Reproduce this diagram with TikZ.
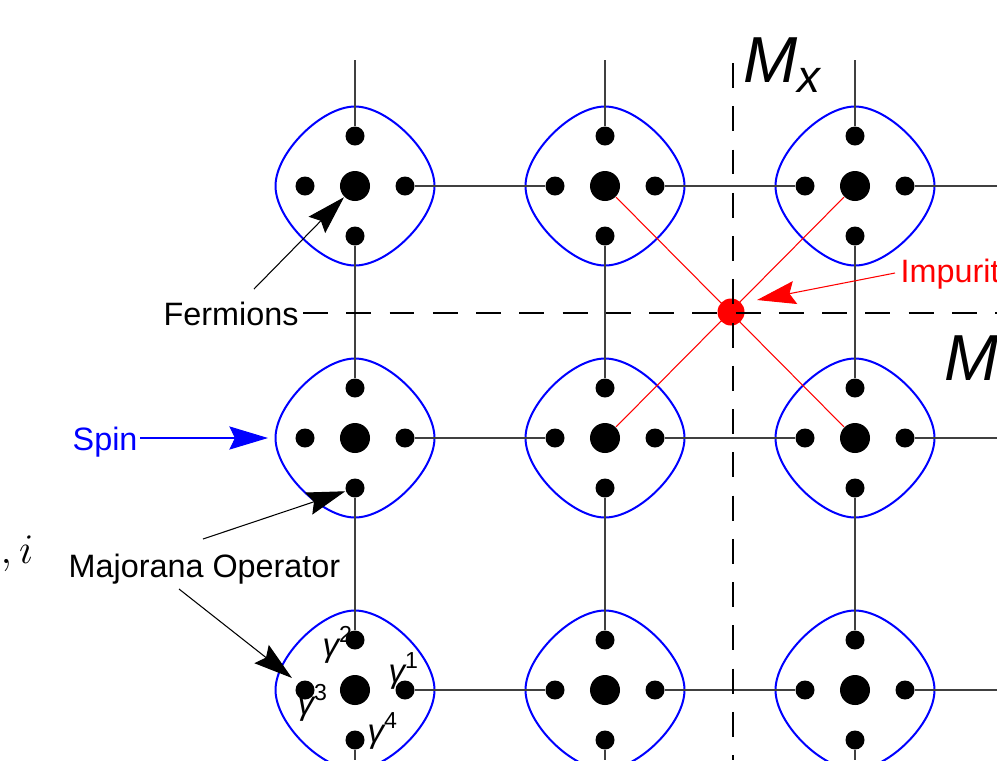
\documentclass[tikz,border=0pt]{standalone}
\usepackage{fontspec}
\setmainfont{Liberation Sans}
\usepackage{tikz}
\usetikzlibrary{arrows.meta}
\definecolor{bondgray}{gray}{0.25}

\begin{document}
\begin{tikzpicture}[
  x=0.01cm, y=-0.01cm,
  font=\fontsize{9.2}{11}\selectfont,
  site/.style={circle,fill=black,inner sep=0pt,minimum size=0.30cm},
  maj/.style={circle,fill=black,inner sep=0pt,minimum size=0.19cm},
  cell/.style={draw=blue,line width=0.57pt},
  bond/.style={draw=bondgray,line width=0.32pt},
  mirror/.style={draw=black,line width=0.65pt,dash pattern=on 7.1pt off 5.2pt},
  ar/.style={-{Stealth[length=11pt,width=6.6pt,inset=1.6pt]},line width=0.3pt},
  lbl/.style={inner sep=0pt,anchor=base west},
  gam/.style={inner sep=0pt,anchor=base west,font=\fontsize{9.4}{11}\selectfont\itshape}
]
\useasboundingbox (0,0) rectangle (997,760);

% spins: blue cell, fermion site and four Majorana dots
\foreach \i in {1,2,3}
  \foreach \j in {1,2,3}{
    \pgfmathsetmacro\cx{105+250*\i}
    \pgfmathsetmacro\cy{-66+252*\j}
    \draw[cell] (\cx+79.5,\cy) .. controls +(0,33.4) and +(33.4,0) .. (\cx,\cy+79.5)
      .. controls +(-33.4,0) and +(0,33.4) .. (\cx-79.5,\cy)
      .. controls +(0,-33.4) and +(-33.4,0) .. (\cx,\cy-79.5)
      .. controls +(33.4,0) and +(0,-33.4) .. cycle;
    \node[site] (s\i\j) at (\cx,\cy) {};
    \node[maj]  (e\i\j) at (\cx+50,\cy) {};
    \node[maj]  (w\i\j) at (\cx-50,\cy) {};
    \node[maj]  (n\i\j) at (\cx,\cy-50) {};
    \node[maj]  (b\i\j) at (\cx,\cy+50) {};
    \coordinate (top\i) at (\cx,60);
    \coordinate (bot\i) at (\cx,760);
    \coordinate (rim\j) at (997,\cy);
  }

% lattice bonds
\foreach \i in {1,2,3}{
  \draw[bond] (n\i1) -- (top\i);
  \draw[bond] (b\i1) -- (n\i2);
  \draw[bond] (b\i2) -- (n\i3);
  \draw[bond] (b\i3) -- (bot\i);
}
\foreach \j in {1,2,3}{
  \draw[bond] (e1\j) -- (w2\j);
  \draw[bond] (e2\j) -- (w3\j);
  \draw[bond] (e3\j) -- (rim\j);
}

% impurity in the plaquette
\draw[red,line width=0.3pt] (s21) -- (s32);
\draw[red,line width=0.3pt] (s31) -- (s22);
\node[circle,fill=red,inner sep=0pt,minimum size=0.27cm] (imp) at (731,312) {};

% mirror lines
\coordinate (mxT) at (733,63);
\coordinate (mxB) at (733,760);
\coordinate (myL) at (303,313);
\coordinate (myR) at (997,313);
\draw[mirror] (mxT) -- (mxB);
\draw[mirror] (myL) -- (myR);

% labels
\node[lbl] (fer) at (163,325) {Fermions};
\node[lbl,text=blue] (spin) at (72,450) {Spin};
\node[lbl] (majo) at (68,577) {Majorana Operator};
\node[lbl,text=red] (impl) at (900,282) {Impurity};
\node[lbl,font=\fontsize{18.5}{20}\selectfont\itshape] (mx) at (743,82) {M\raisebox{-2.85pt}{\fontsize{13}{14}\selectfont x}};
\node[lbl,font=\fontsize{18.5}{20}\selectfont\itshape] (my) at (944,380) {M};
\node[lbl,font=\fontsize{12.5}{14}\selectfont] (idx) at (0,563) {$,i$};

\node[gam] (g1) at (388,682) {γ\textsuperscript{\upshape 1}};
\node[gam] (g2) at (322,656) {γ\textsuperscript{\upshape 2}};
\node[gam] (g3) at (297,714) {γ\textsuperscript{\upshape 3}};
\node[gam] (g4) at (367,742) {γ\textsuperscript{\upshape 4}};

% pointers
\coordinate (ferT) at (254,289);
\coordinate (spinT) at (140,438);
\coordinate (spinH) at (268,438);
\coordinate (majA) at (203,539);
\coordinate (majB) at (179,589);
\coordinate (majBH) at (292,678);
\coordinate (impT) at (895,273);
\coordinate (impH) at (757,300);
\draw[ar] (ferT) -- (s11);
\draw[ar,blue] (spinT) -- (spinH);
\draw[ar] (majA) -- (b12);
\draw[ar] (majB) -- (majBH);
\draw[ar,red] (impT) -- (impH);
\end{tikzpicture}
\end{document}
